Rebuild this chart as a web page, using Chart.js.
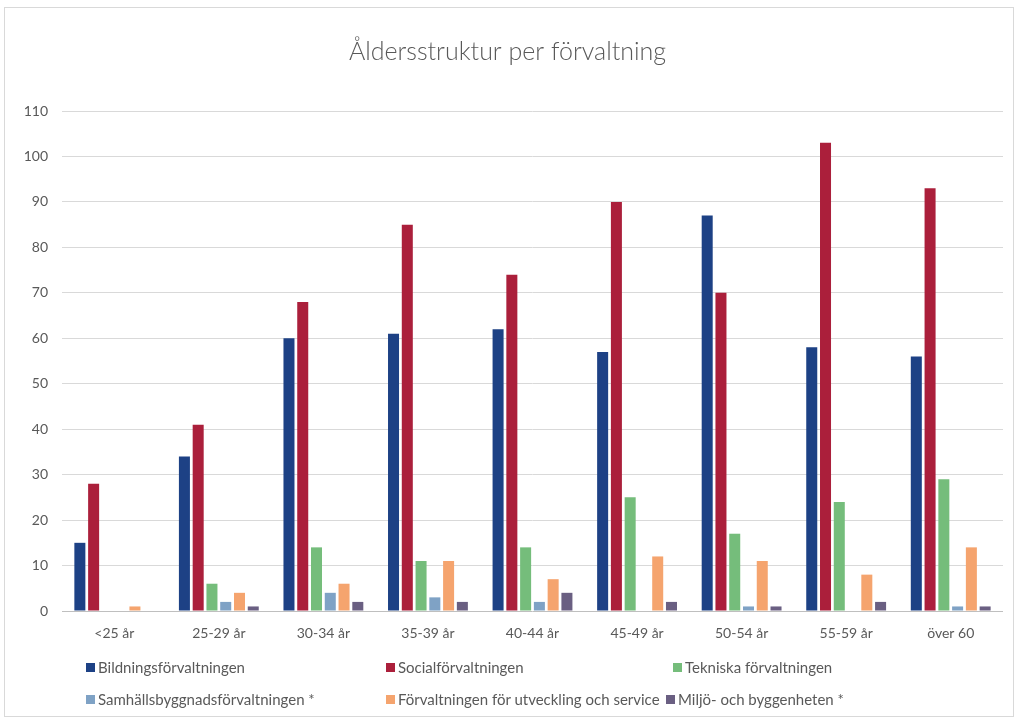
<!DOCTYPE html>
<html>
<head>
<meta charset="utf-8">
<script src="https://cdn.jsdelivr.net/npm/chart.js@4/dist/chart.umd.min.js"></script>
<style>
  body { margin: 0; background: #fff; }
  #wrap { position: relative; width: 1018px; height: 719px; }
  #frame { position: absolute; left: 4px; top: 7px; width: 1008px; height: 708px; border: 1px solid #d9d9d9; }
  canvas { position: absolute; left: 0; top: 0; }
  .leg { position: absolute; font-family: Lato, sans-serif; font-size: 15px; color: #595959; white-space: nowrap; line-height: 18px; }
  .leg span { display: inline-block; width: 9px; height: 9px; margin-right: 3px; vertical-align: 1px; }
</style>
</head>
<body>
<div id="wrap">
  <div id="frame"></div>
  <canvas id="myChart" width="1018" height="719"></canvas>
  <div id="legend"></div>
</div>
<script>
// age groups on the x axis
const ageGroups = ['<25 år', '25-29 år', '30-34 år', '35-39 år', '40-44 år', '45-49 år', '50-54 år', '55-59 år', 'över 60'];

// one array per förvaltning (null = no bar)
const bildning = [15, 34, 60, 61, 62, 57, 87, 58, 56];
const social = [28, 41, 68, 85, 74, 90, 70, 103, 93];
const tekniska = [null, 6, 14, 11, 14, 25, 17, 24, 29];
const samhalls = [null, 2, 4, 3, 2, null, 1, null, 1];
const utveckling = [1, 4, 6, 11, 7, 12, 11, 8, 14];
const miljo = [null, 1, 2, 2, 4, 2, 1, 2, 1];

const seriesNames = [
    'Bildningsförvaltningen',
    'Socialförvaltningen',
    'Tekniska förvaltningen',
    'Samhällsbyggnadsförvaltningen *',
    'Förvaltningen för utveckling och service',
    'Miljö- och byggenheten *'
];
const seriesData = [bildning, social, tekniska, samhalls, utveckling, miljo];
const seriesColors = ['#1d4185', '#ab1f3b', '#75bd7b', '#7fa2c5', '#f5a46e', '#6a5f82'];

const ctx = document.getElementById('myChart').getContext('2d');

const datasets = seriesNames.map((name, i) => ({
    label: name,
    data: seriesData[i],
    backgroundColor: seriesColors[i],
    borderWidth: 0,
    categoryPercentage: 0.79,
    barPercentage: 0.8
}));

new Chart(ctx, {
    type: 'bar',
    data: { labels: ageGroups, datasets: datasets },
    options: {
        responsive: false,
        animation: false,
        layout: { padding: { top: 20, left: 12, right: 15, bottom: 68 } },
        plugins: {
            legend: { display: false },
            tooltip: { enabled: false },
            title: {
                display: true,
                text: 'Åldersstruktur per förvaltning',
                color: '#595959',
                font: { family: 'Lato', size: 25, weight: '300' },
                padding: { top: 17, bottom: 44 }
            }
        },
        scales: {
            x: {
                grid: { display: false, drawTicks: false },
                border: { display: false },
                ticks: { color: '#595959', font: { family: 'Lato', size: 14 }, padding: 14 },
                afterFit: (s) => { s.height = 40; }
            },
            y: {
                min: 0,
                max: 110,
                grid: {
                    drawTicks: false,
                    color: (c) => c.tick && c.tick.value === 0 ? '#bfbfbf' : '#d9d9d9'
                },
                border: { display: false },
                ticks: { stepSize: 10, color: '#595959', font: { family: 'Lato', size: 14 }, padding: 14 },
                afterFit: (s) => { s.width = 50; }
            }
        }
    }
});

// legend in three columns, two rows, like the original
const legendPos = [[86, 658], [386, 658], [673, 658], [86, 690], [386, 690], [666, 690]];
const legendEl = document.getElementById('legend');
seriesNames.forEach((name, i) => {
    const d = document.createElement('div');
    d.className = 'leg';
    d.style.left = legendPos[i][0] + 'px';
    d.style.top = legendPos[i][1] + 'px';
    d.innerHTML = '<span style="background:' + seriesColors[i] + '"></span>' + name;
    legendEl.appendChild(d);
});
</script>
</body>
</html>
